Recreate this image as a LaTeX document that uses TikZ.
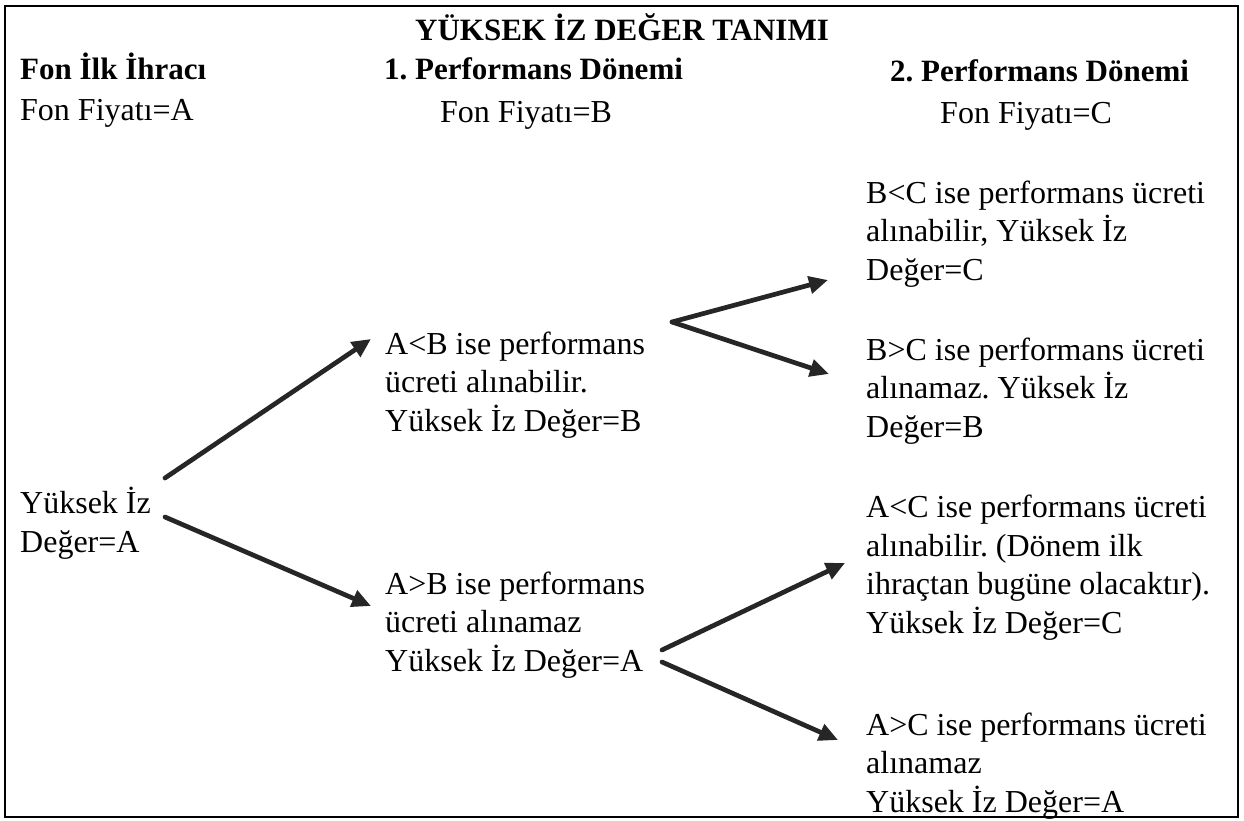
\documentclass[tikz,border=0pt]{standalone}
\usepackage{fontspec}
\setmainfont{Liberation Serif}
\usetikzlibrary{arrows.meta}
\frenchspacing
\begin{document}
\begin{tikzpicture}[x=1pt,y=-1pt,
  txt/.style={anchor=base west, inner sep=0pt, align=left, font=\fontsize{32}{38.5}\selectfont},
  hdr/.style={anchor=base west, inner sep=0pt, font=\fontsize{31}{36}\selectfont\bfseries},
  arr/.style={line width=4.7pt, draw=black!85, line cap=round, -{Triangle[length=19pt,width=17pt]}}]
\useasboundingbox (0,0) rectangle (1244,821);
\fill[white] (0,0) rectangle (1244,821);
\draw[line width=2pt] (5,6) rectangle (1238,817);
% headings
\node[hdr, anchor=base] (title) at (622,41) {YÜKSEK İZ DEĞER TANIMI};
\node[hdr] (h0) at (20,80) {Fon İlk İhracı};
\node[hdr] (h1) at (384,80) {1. Performans Dönemi};
\node[hdr] (h2) at (890,82) {2. Performans Dönemi};
\node[txt] (p0) at (20,121) {Fon Fiyatı=A};
\node[txt] (p1) at (440,123) {Fon Fiyatı=B};
\node[txt] (p2) at (940,124) {Fon Fiyatı=C};
% blocks (base = baseline of last line)
\node[txt] (l0) at (20,552) {Yüksek İz\\Değer=A};
\node[txt] (m1) at (385,431) {A<B ise performans\\ücreti alınabilir.\\Yüksek İz Değer=B};
\node[txt] (m2) at (385,671) {A>B ise performans\\ücreti alınamaz\\Yüksek İz Değer=A};
\node[txt] (r1) at (866,280) {B<C ise performans ücreti\\alınabilir, Yüksek İz\\Değer=C};
\node[txt] (r2) at (866,437) {B>C ise performans ücreti\\alınamaz. Yüksek İz\\Değer=B};
\node[txt] (r3) at (866,633) {A<C ise performans ücreti\\alınabilir. (Dönem ilk\\ihraçtan bugüne olacaktır).\\Yüksek İz Değer=C};
\node[txt] (r4) at (866,812) {A>C ise performans ücreti\\alınamaz\\Yüksek İz Değer=A};
% connector ends
\coordinate (s1) at (165,478);
\coordinate (e1) at (371,339);
\coordinate (s2) at (165,517);
\coordinate (e2) at (371,606);
\coordinate (v1) at (672,322);
\coordinate (e3) at (828,280);
\coordinate (e4) at (829,374);
\coordinate (v2) at (662,650);
\coordinate (v3) at (662,662);
\coordinate (e5) at (845,563);
\coordinate (e6) at (838,740);
\draw[arr] (s1) -- (e1);
\draw[arr] (s2) -- (e2);
\draw[arr] (v1) -- (e3);
\draw[arr] (v1) -- (e4);
\draw[arr] (v2) -- (e5);
\draw[arr] (v3) -- (e6);
\end{tikzpicture}
\end{document}
